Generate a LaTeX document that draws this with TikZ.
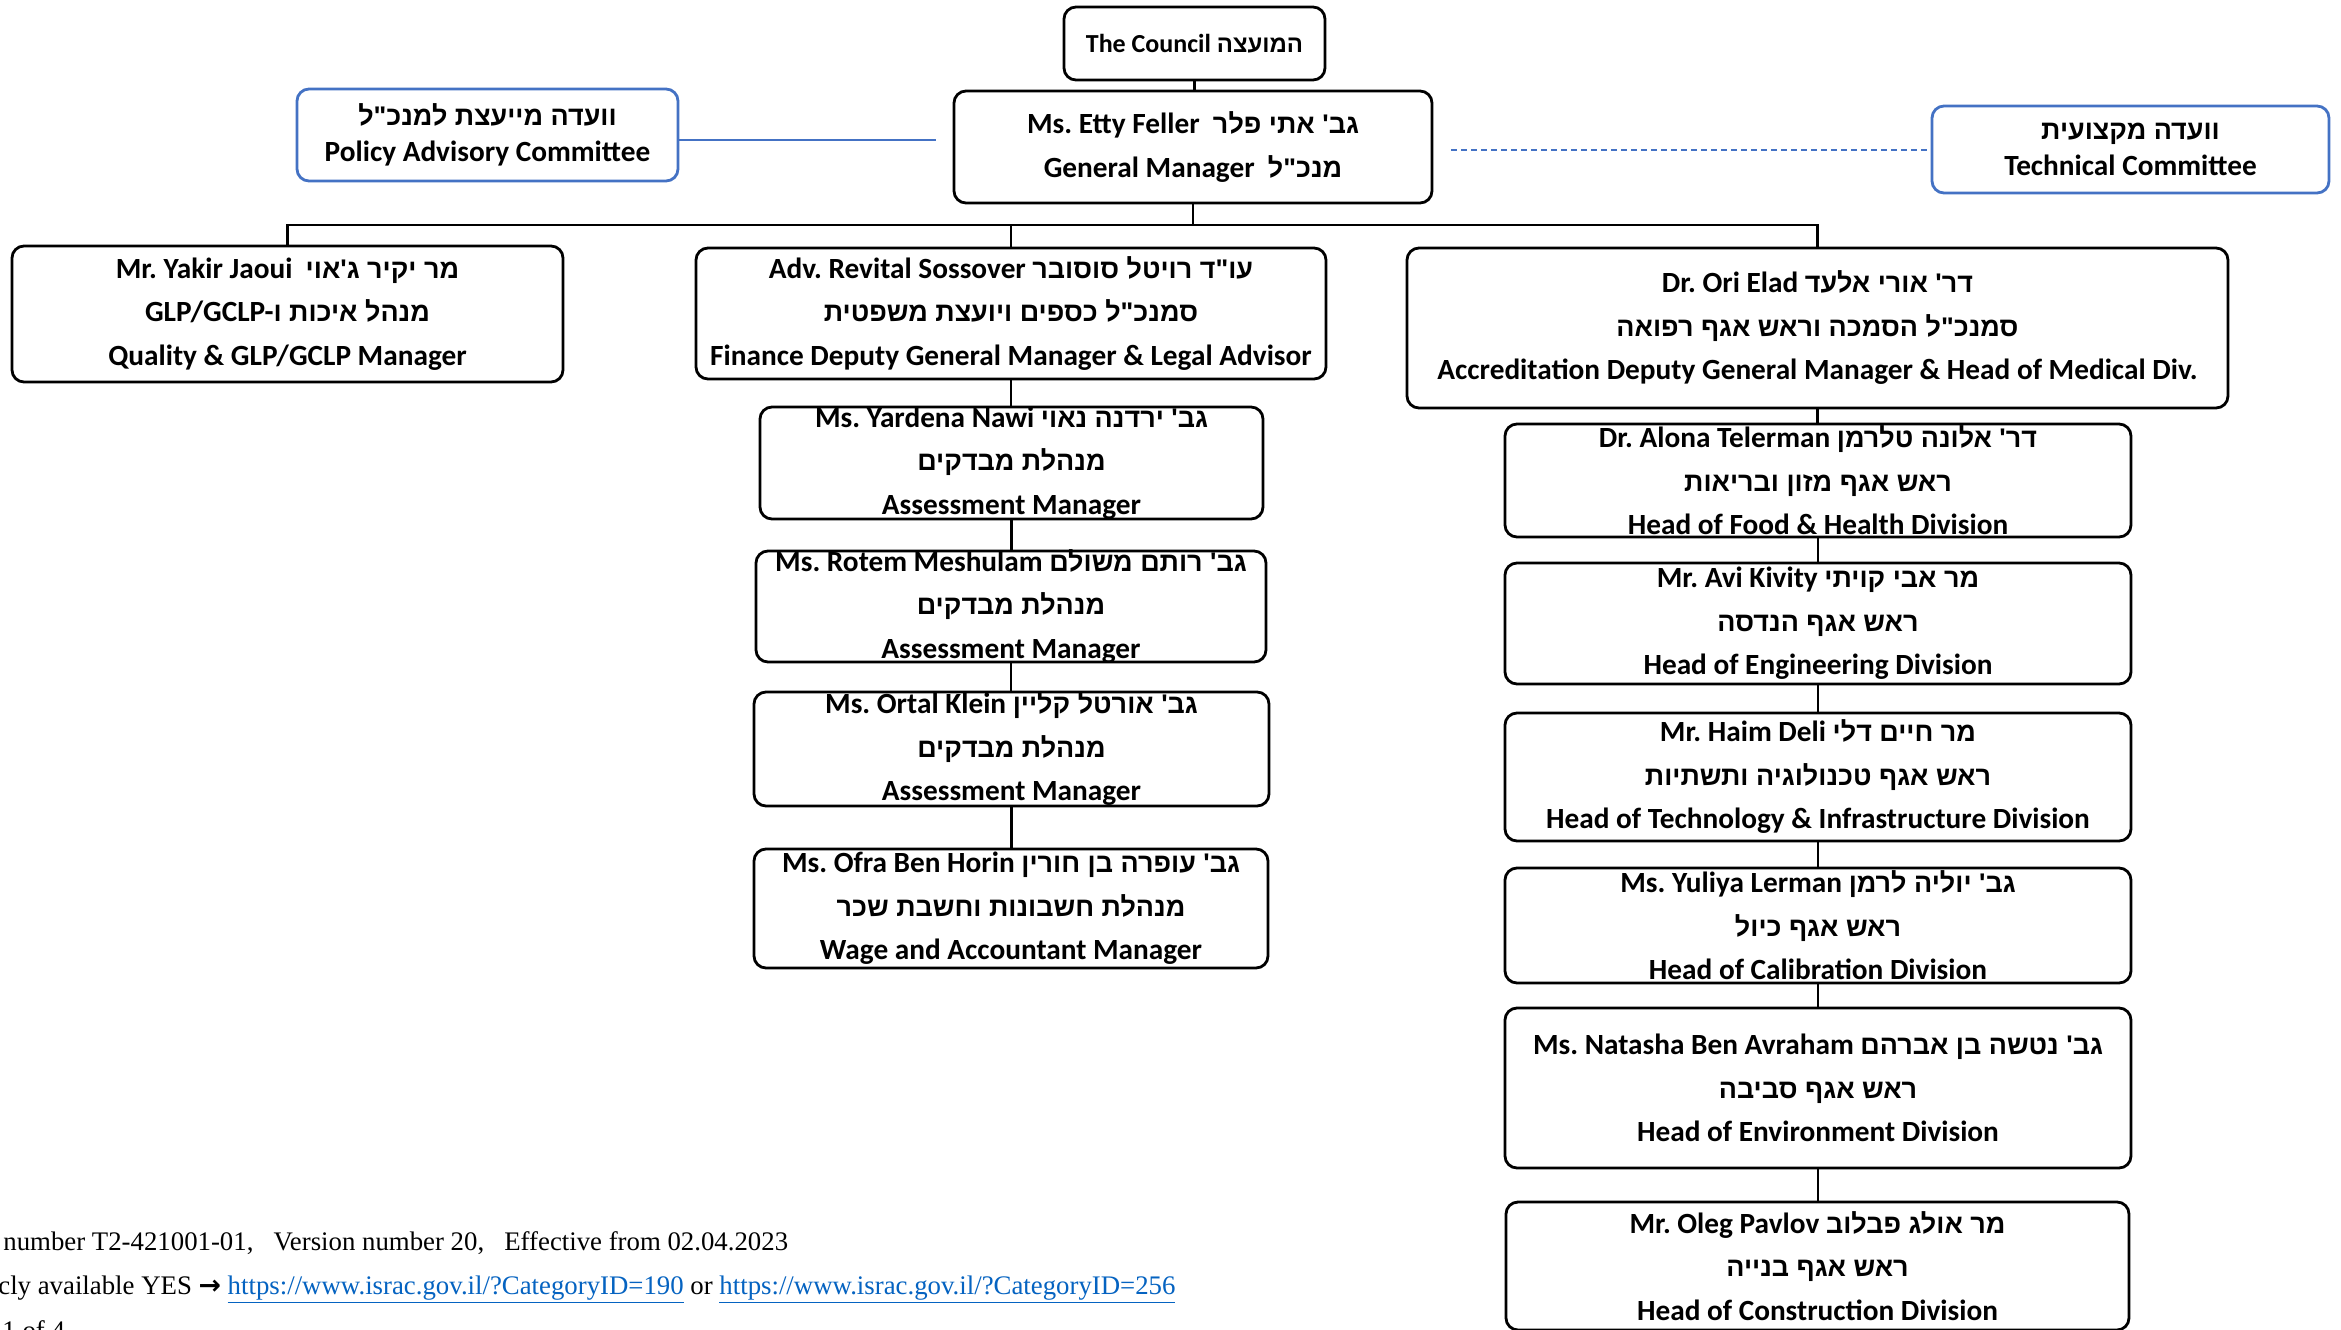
\documentclass[tikz,border=0pt]{standalone}
\usepackage{fontspec}
\setmainfont{Carlito}
\newfontfamily\heb[Script=Hebrew,Scale=0.92]{Liberation Sans}
\newfontfamily\tnr{Liberation Serif}
\newfontfamily\dvs{DejaVu Sans}
\TeXXeTstate=1
\newcommand\hebr[1]{{\heb\beginR #1\endR}}
\definecolor{offblue}{HTML}{4472C4}
\definecolor{linkblue}{HTML}{0563C1}
\frenchspacing
\newcommand\orgbox[7][obox]{%
  \node[#1, minimum width={(#5-#3)*0.5pt}, minimum height={(#6-#4)*0.5pt}] (#2) at ({(#3+#5)/2},{(#4+#6)/2}) {};
  \node[txt] (#2-t) at (#2.center) {#7};}
\begin{document}
\begin{tikzpicture}[x=0.5pt,y=-0.5pt,
  obox/.style={draw=black, line width=1.4pt, rounded corners=6pt, inner sep=0pt},
  bbox/.style={draw=offblue, line width=1.4pt, rounded corners=6pt, inner sep=0pt},
  txt/.style={font=\bfseries\fontsize{14.65}{21.75}\selectfont, align=center, inner sep=0pt},
  conn/.style={line width=1.1pt, draw=black},
  bconn/.style={line width=0.9pt, draw=offblue},
  foot/.style={font=\tnr\fontsize{13.4}{16}\selectfont, inner sep=0pt, anchor=base west}]
\useasboundingbox (0,0) rectangle (2341,1329);
\clip (0,0) rectangle (2341,1329);
\fill[white] (0,0) rectangle (2341,1329);

% top level
\orgbox{council}{1064}{7}{1325}{80}{\fontsize{13}{16}\selectfont The Council \hebr{המועצה}}
\orgbox{gm}{954}{91}{1432}{203}{Ms. Etty Feller~~\hebr{גב' אתי פלר}\\General Manager~~\hebr{מנכ"ל}}
\orgbox[bbox]{policy}{297}{89}{678}{181}{\hebr{וועדה מייעצת למנכ"ל}\\[-4pt]Policy Advisory Committee}
\orgbox[bbox]{tech}{1932}{106}{2329}{193}{\hebr{וועדה מקצועית}\\[-4pt]Technical Committee}

% second level
\orgbox{yakir}{12}{246}{563}{382}{Mr. Yakir Jaoui~~\hebr{מר יקיר ג'אוי}\\GLP/GCLP-\hebr{מנהל איכות ו}\\Quality \& GLP/GCLP Manager}
\orgbox{revital}{696}{248}{1326}{379}{Adv. Revital Sossover \hebr{עו"ד רויטל סוסובר}\\\hebr{סמנכ"ל כספים ויועצת משפטית}\\Finance Deputy General Manager \& Legal Advisor}
\orgbox{ori}{1407}{248}{2228}{408}{Dr. Ori Elad \hebr{דר' אורי אלעד}\\\hebr{סמנכ"ל הסמכה וראש אגף רפואה}\\Accreditation Deputy General Manager \& Head of Medical Div.}

% middle column
\orgbox{yardena}{760}{407}{1263}{519}{Ms. Yardena Nawi \hebr{גב' ירדנה נאוי}\\\hebr{מנהלת מבדקים}\\Assessment Manager}
\orgbox{rotem}{756}{551}{1266}{662}{Ms. Rotem Meshulam \hebr{גב' רותם משולם}\\\hebr{מנהלת מבדקים}\\Assessment Manager}
\orgbox{ortal}{754}{692}{1269}{806}{Ms. Ortal Klein \hebr{גב' אורטל קליין}\\\hebr{מנהלת מבדקים}\\Assessment Manager}
\orgbox{ofra}{754}{849}{1268}{968}{Ms. Ofra Ben Horin \hebr{גב' עופרה בן חורין}\\\hebr{מנהלת חשבונות וחשבת שכר}\\Wage and Accountant Manager}

% right column
\orgbox{alona}{1505}{424}{2131}{537}{Dr. Alona Telerman \hebr{דר' אלונה טלרמן}\\\hebr{ראש אגף מזון ובריאות}\\Head of Food \& Health Division}
\orgbox{avi}{1505}{563}{2131}{684}{Mr. Avi Kivity \hebr{מר אבי קויתי}\\\hebr{ראש אגף הנדסה}\\Head of Engineering Division}
\orgbox{haim}{1505}{713}{2131}{841}{Mr. Haim Deli \hebr{מר חיים דלי}\\\hebr{ראש אגף טכנולוגיה ותשתיות}\\Head of Technology \& Infrastructure Division}
\orgbox{yuliya}{1505}{868}{2131}{983}{Ms. Yuliya Lerman \hebr{גב' יוליה לרמן}\\\hebr{ראש אגף כיול}\\Head of Calibration Division}
\orgbox{natasha}{1505}{1008}{2131}{1168}{Ms. Natasha Ben Avraham \hebr{גב' נטשה בן אברהם}\\\hebr{ראש אגף סביבה}\\Head of Environment Division}
\orgbox{oleg}{1506}{1202}{2129}{1330}{Mr. Oleg Pavlov \hebr{מר אולג פבלוב}\\\hebr{ראש אגף בנייה}\\Head of Construction Division}

% connectors
\draw[conn] (council.south) -- (council.south |- gm.north);
\coordinate (bus) at (0,225);
\draw[conn] (gm.south) -- (gm.south |- bus) -| (yakir.north);
\draw[conn] (gm.south |- bus) -| (revital.north);
\draw[conn] (gm.south |- bus) -| (ori.north);
\foreach \a/\b in {revital/yardena, yardena/rotem, rotem/ortal, ortal/ofra,
                   ori/alona, alona/avi, avi/haim, haim/yuliya, yuliya/natasha, natasha/oleg}
  \draw[conn] (\a.south) -- (\a.south |- \b.north);

\coordinate (polEnd) at (936,140);
\draw[bconn] (polEnd -| policy.east) -- (polEnd);
\coordinate (techEnd) at (1451,150);
\draw[bconn, dash pattern=on 3pt off 2pt] (techEnd) -- (techEnd -| tech.west);

% footer
\node[foot] (foot1) at (3,1250) {number T2-421001-01,\ \ \ Version number 20,\ \ \ Effective from 02.04.2023};
\node[foot] (foot2) at (-2,1294) {cly available YES {\dvs\bfseries →} \textcolor{linkblue}{\underline{https://www.israc.gov.il/?CategoryID=190}} or \textcolor{linkblue}{\underline{https://www.israc.gov.il/?CategoryID=256}}};
\node[foot] (foot3) at (2,1339) {1 of 4};
\end{tikzpicture}
\end{document}
